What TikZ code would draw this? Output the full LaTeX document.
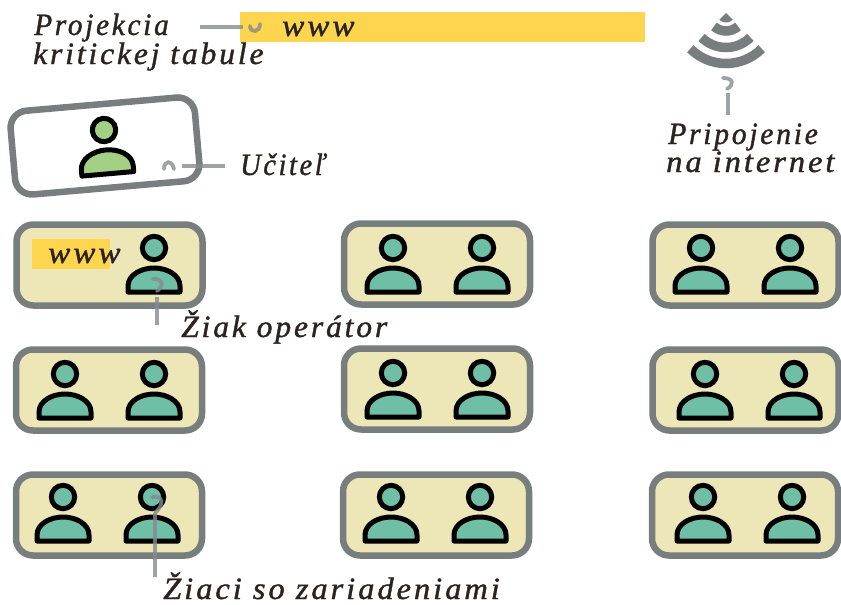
\documentclass[tikz,border=0pt]{standalone}
\usepackage{fontspec}
\setmainfont{Liberation Serif}
\newfontfamily\hand[LetterSpace=9,FakeBold=1.2]{Liberation Serif Italic}
\definecolor{ink}{HTML}{2B2320}
\definecolor{frame}{HTML}{787D7E}
\definecolor{sand}{HTML}{EDE6B7}
\definecolor{teal}{HTML}{6FBFA6}
\definecolor{leaf}{HTML}{A3D085}
\definecolor{sun}{HTML}{FDD54E}
\definecolor{lead}{HTML}{858B8F}
\tikzset{
  desk/.style={draw=frame,line width=6.5pt,rounded corners=17pt,fill=sand,minimum width=186pt,minimum height=81pt,inner sep=0pt},
  bar/.style={fill=sun,inner sep=0pt},
  lbl/.style={text=ink,inner sep=0pt,anchor=base west,align=left,font=\hand\fontsize{31}{31}\selectfont},
  leader/.style={draw=lead,line width=3.8pt,opacity=.8},
  curl/.style={draw=lead,line width=3.8pt,opacity=.8,line cap=round},
  wifi/.style={draw=frame,line width=9.5pt},
  pers/.style={draw=black,line width=5pt}
}
\newcommand{\personat}[4]{%
  \begin{scope}[shift={(#1,#2)},rotate=#3]
    \draw[pers,fill=#4] (0,0) circle (11.7);
    \draw[pers,fill=#4,line join=round] (-26,-44) -- (-26,-38) .. controls (-26,-27) and (-13,-20) .. (0,-20) .. controls (13,-20) and (26,-27) .. (26,-38) -- (26,-44) -- cycle;
  \end{scope}}
\newcommand{\fit}[2]{\scalebox{#1}[1]{#2}}
\begin{document}
\begin{tikzpicture}[x=1pt,y=1pt]
\useasboundingbox (0,0) rectangle (841,-605);
% projection bar
\node[bar,minimum width=405pt,minimum height=30pt] (projbar) at (442.5,-27) {};
\node[lbl] (wwwa) at (282,-36) {\fit{1.07}{www}};
\node[lbl] (projl) at (34,-35) {\fit{0.95}{Projekcia}};
\node[lbl] (projk) at (33,-64) {\fit{1.02}{kritickej tabule}};
\coordinate (pa) at (200,-27);
\coordinate (pb) at (243,-27);
\draw[leader] (pa) -- (pb);
\draw[curl] (250,-26) .. controls (250,-33) and (260,-33) .. (260,-24);
% wifi
\coordinate (wc) at (726,-13);
\fill[frame] (wc) -- ++(225:9.5) arc[start angle=225,end angle=315,radius=9.5] -- cycle;
\draw[wifi] (wc) ++(228:18) arc[start angle=228,end angle=312,radius=18];
\draw[wifi] (wc) ++(225:34.5) arc[start angle=225,end angle=315,radius=34.5];
\draw[wifi] (wc) ++(225:50.5) arc[start angle=225,end angle=315,radius=50.5];
\node[lbl] (net1) at (668,-144) {\fit{0.96}{Pripojenie}};
\node[lbl] (net2) at (666,-172) {\fit{1.05}{na internet}};
\coordinate (na) at (728,-115);
\coordinate (nb) at (728,-93);
\draw[leader] (na) -- (nb);
\draw[curl] (727,-89) .. controls (735,-84) and (733,-78) .. (723,-78);
% teacher
\node[desk,fill=white,rotate=5,minimum width=185pt,minimum height=84pt] (teacher) at (105,-146) {};
\personat{104}{-130}{5}{leaf}
\node[lbl] (ucitel) at (240,-175) {\fit{0.92}{Učiteľ}};
\coordinate (ua) at (225,-166);
\coordinate (ub) at (182,-166);
\draw[leader] (ua) -- (ub);
\draw[curl] (164,-169) .. controls (164,-160) and (172,-160) .. (174,-169);
% desks
\node[desk] (d11) at (109.5,-265) {};
\node[desk] (d12) at (437,-264) {};
\node[desk] (d13) at (745.5,-265) {};
\node[desk] (d21) at (109,-390) {};
\node[desk] (d22) at (437,-389) {};
\node[desk] (d23) at (745.5,-390) {};
\node[desk] (d31) at (109,-515) {};
\node[desk] (d32) at (436,-515) {};
\node[desk] (d33) at (745,-515) {};
% operator screen
\node[bar,minimum width=78pt,minimum height=30pt] (opbar) at (71,-254) {};
\node[lbl] (wwwb) at (48,-263) {\fit{1.07}{www}};
% people
\personat{154}{-248}{0}{teal}
\foreach \x/\y in {393/-248,482/-248,701/-248,790/-248,
                   65/-374,154/-374,393/-373,482/-373,705/-374,794/-374,
                   63/-497,152/-497,391/-497,480/-497,703/-497,792/-497}{
  \personat{\x}{\y}{0}{teal}
}
% operator label
\node[lbl] (oper) at (181,-337) {\fit{1.02}{Žiak operátor}};
\coordinate (oa) at (157,-325);
\coordinate (ob) at (157,-297);
\draw[leader] (oa) -- (ob);
\draw[curl] (157,-291) .. controls (165,-285) and (162,-278) .. (153,-279);
% students label
\node[lbl] (stud) at (163,-599) {\fit{1.05}{Žiaci so zariadeniami}};
\coordinate (sa) at (155,-577);
\coordinate (sb) at (155,-513);
\draw[leader] (sa) -- (sb);
\draw[curl] (155,-513) .. controls (164,-505) and (164,-495) .. (152,-497);
\end{tikzpicture}
\end{document}
